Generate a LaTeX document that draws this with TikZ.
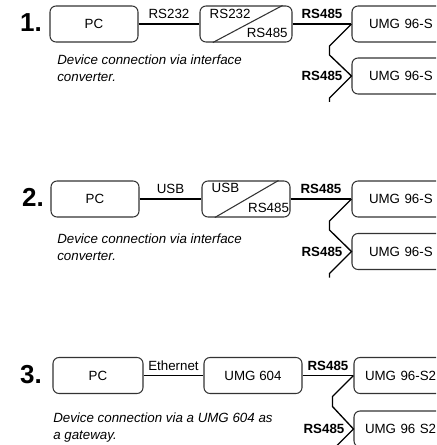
\documentclass[tikz,border=0pt]{standalone}
\usepackage{fontspec}
\setmainfont{Liberation Sans}

\begin{document}
\begin{tikzpicture}[x=0.75pt,y=-0.75pt,
    box/.style={draw=black!80, line width=0.8pt, rounded corners=4.5pt, minimum height=27pt, inner sep=0pt, font=\fontsize{10}{12}\selectfont},
    umg/.style={box, text width=64.5pt, inner xsep=12.75pt, align=left},
    wire/.style={line width=1pt},
    split/.style={draw=black!80, line width=0.8pt},
    lbl/.style={font=\fontsize{10}{12}\selectfont},
    bus/.style={font=\fontsize{10}{12}\selectfont\bfseries},
    num/.style={font=\fontsize{19.5}{20}\selectfont\bfseries, inner sep=0pt, anchor=east},
    note/.style={font=\fontsize{10}{12.4}\selectfont\itshape, align=left, inner sep=0pt, anchor=north west}]
    \useasboundingbox (0,0) rectangle (436,445);
    \clip (0,0) rectangle (436,445);

    % 1. interface converter RS232
    \node[num] (n1) at (42,22.5) {1.};
    \node[box, minimum width=66pt] (pc1) at (94,24) {PC};
    \node[box, minimum width=69pt] (conv1) at (246,24) {};
    \node[umg] (umg1a) at (412,24) {UMG 96-S};
    \node[umg] (umg1b) at (412,76) {UMG 96-S};
    \node[lbl, anchor=base west, inner sep=0pt] (in1) at ([shift={(7.5pt,-9.75pt)}]conv1.north west) {RS232};
    \node[lbl, anchor=base east, inner sep=0pt] (out1) at ([shift={(-3.5pt,3.75pt)}]conv1.south east) {RS485};
    \draw[split] ([xshift=10pt]conv1.south west) -- ([xshift=-7.5pt]conv1.north east);
    \draw[wire] (pc1) -- node[lbl, above] {RS232} (conv1);
    \draw[wire] (conv1) -- node[bus, above] {RS485} (umg1a);
    \draw[wire] (umg1a.west) -- ++(-22,22) -- ++(0,9) -- (umg1b.west) node[bus, left=3pt] {RS485} -- ++(-22,22) -- ++(0,4);
    \node[note] (t1) at (57,55) {Device connection via interface\\converter.};

    % 2. interface converter USB
    \node[num] (n2) at (44,197) {2.};
    \node[box, minimum width=66pt] (pc2) at (95,199) {PC};
    \node[box, minimum width=66pt] (conv2) at (246,199) {};
    \node[umg] (umg2a) at (412,199) {UMG 96-S};
    \node[umg] (umg2b) at (412,251.5) {UMG 96-S};
    \node[lbl, anchor=base west, inner sep=0pt] (in2) at ([shift={(7.5pt,-9pt)}]conv2.north west) {USB};
    \node[lbl, anchor=base east, inner sep=0pt] (out2) at ([shift={(-1pt,3.75pt)}]conv2.south east) {RS485};
    \draw[split] ([xshift=10pt]conv2.south west) -- ([xshift=-9pt]conv2.north east);
    \draw[wire] (pc2) -- node[lbl, above] {USB} (conv2);
    \draw[wire] (conv2) -- node[bus, above] {RS485} (umg2a);
    \draw[wire] (umg2a.west) -- ++(-22,22) -- ++(0,9) -- (umg2b.west) node[bus, left=3pt] {RS485} -- ++(-22,22) -- ++(0,4);
    \node[note] (t2) at (57,234) {Device connection via interface\\converter.};

    % 3. UMG 604 as gateway
    \node[num] (n3) at (42,375) {3.};
    \node[box, minimum width=67.5pt] (pc3) at (98,375.5) {PC};
    \node[box, minimum width=73.5pt] (gw3) at (253,375.5) {UMG 604};
    \node[umg, inner xsep=8.25pt, text width=73.5pt] (umg3a) at (414,375.5) {UMG 96-S2};
    \node[umg, inner xsep=8.25pt, text width=73.5pt] (umg3b) at (414,429) {UMG 96 S2};
    \draw[wire] (pc3) -- node[lbl, above] {Ethernet} (gw3);
    \draw[wire] (gw3) -- node[bus, above] {RS485} (umg3a);
    \draw[wire] (umg3a.west) -- ++(-21,21) -- ++(0,10) -- (umg3b.west) node[bus, left=3pt] {RS485} -- ++(-25,25);
    \node[note] (t3) at (53,413) {Device connection via a UMG 604 as\\a gateway.};
\end{tikzpicture}
\end{document}
